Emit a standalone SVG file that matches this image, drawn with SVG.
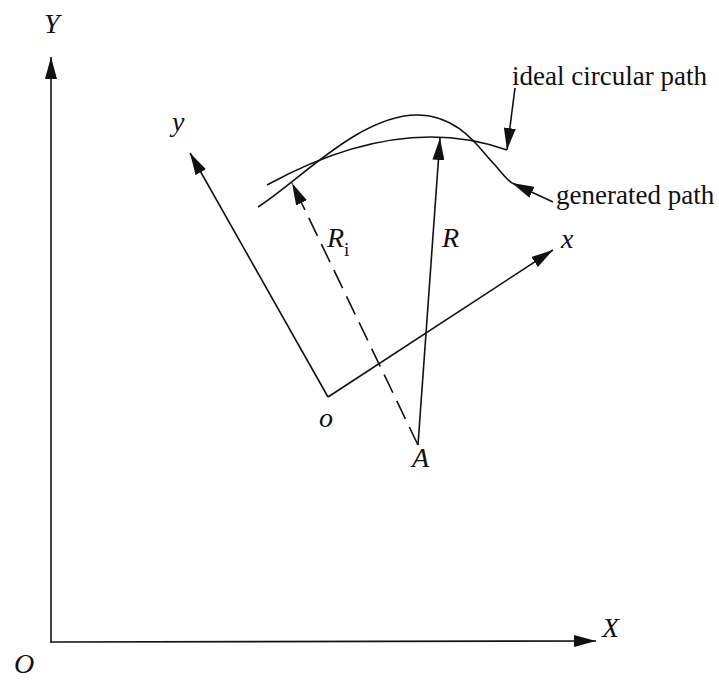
<svg xmlns="http://www.w3.org/2000/svg" width="719" height="680" viewBox="0 0 719 680">
<style>
.ln{fill:none;stroke:#111;stroke-width:1.6}
.dash{stroke-dasharray:20 9}
.lbl{font-family:"Liberation Serif","Times New Roman",serif;font-style:italic;font-size:28px;fill:#111}
.txt{font-family:"Liberation Serif","Times New Roman",serif;font-size:27px;fill:#111}
</style>
<defs>
<marker id="ah" viewBox="0 0 22 12" refX="22" refY="6" markerWidth="22" markerHeight="12" markerUnits="userSpaceOnUse" orient="auto">
<path d="M0,0 L22,6 L0,12 z" fill="#111" stroke="none"/>
</marker>
</defs>
<rect width="719" height="680" fill="#fff"/>
<g id="curves">
<path id="ideal-path" class="ln" d="M267,185 Q400,112 507,150"/>
<path id="generated-path" class="ln" d="M258,207 C300,180 360,115 417,115 C460,115 480,150 495,165 C502,173 507,180 512,183"/>
</g>
<g id="connectors">
<path class="ln" d="M51,643 L51,57" marker-end="url(#ah)"/>
<path class="ln" d="M51,642 L596,641" marker-end="url(#ah)"/>
<path class="ln" d="M328,397 L190,153" marker-end="url(#ah)"/>
<path class="ln" d="M328,397 L553,250" marker-end="url(#ah)"/>
<path class="ln" d="M418,445 L440,138" marker-end="url(#ah)"/>
<path class="ln dash" d="M418,445 L292,183" marker-end="url(#ah)"/>
<path class="ln" d="M515,88 L507,150" marker-end="url(#ah)"/>
<path class="ln" d="M553,202 L512,183" marker-end="url(#ah)"/>
</g>
<g id="labels">
<text class="lbl" x="44" y="33">Y</text>
<text class="lbl" x="14" y="673">O</text>
<text class="lbl" x="602" y="637">X</text>
<text class="lbl" x="172" y="131">y</text>
<text class="lbl" x="561" y="248">x</text>
<text class="lbl" x="319" y="427">o</text>
<text class="lbl" x="412" y="467">A</text>
<text class="lbl" x="442" y="247">R</text>
<text class="lbl" x="327" y="247">R<tspan font-style="normal" font-size="19" dy="9">i</tspan></text>
<text class="txt" x="512" y="85">ideal circular path</text>
<text class="txt" x="556" y="204">generated path</text>
</g>
</svg>
